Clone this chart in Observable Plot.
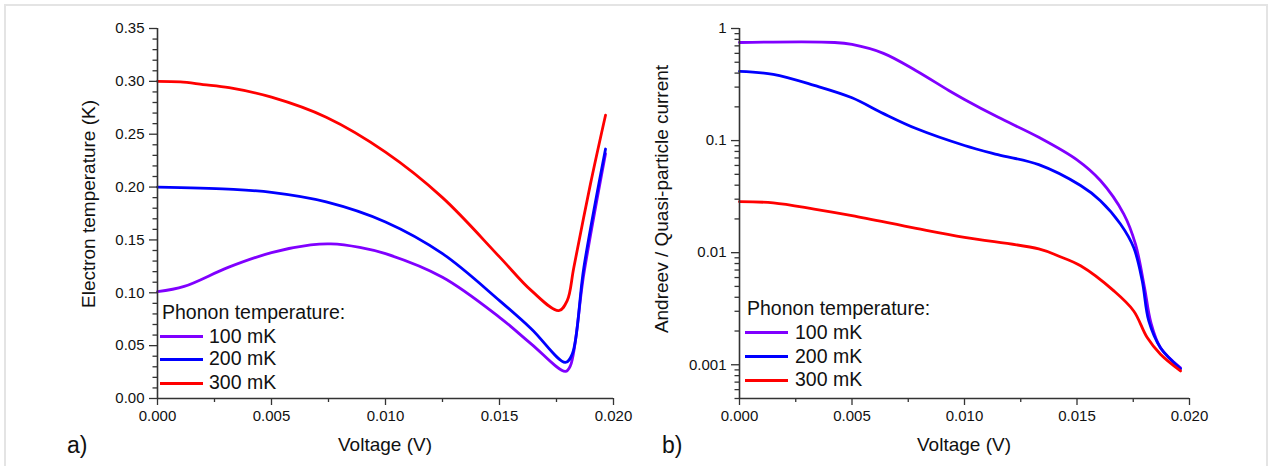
<!DOCTYPE html>
<html>
<head>
<meta charset="utf-8">
<script src="https://cdn.jsdelivr.net/npm/d3@7"></script>
<script src="https://cdn.jsdelivr.net/npm/@observablehq/plot@0.6"></script>
<style>
  html, body { margin: 0; padding: 0; background: #fff; }
  #wrap { position: relative; width: 1270px; height: 466px; overflow: hidden; font-family: "Liberation Sans", Arial, sans-serif; color: #111; }
  #border { position: absolute; left: 4px; top: 4px; width: 1260px; height: 480px; border: 2px solid #e4e4e4; }
  .panel { position: absolute; top: 0; }
  .t { position: absolute; white-space: nowrap; font-size: 19px; line-height: 1; }
  .legtitle { position: absolute; white-space: nowrap; font-size: 19.5px; line-height: 1; }
  .sw { position: absolute; height: 3px; width: 43px; }
  .lab { position: absolute; white-space: nowrap; font-size: 19.5px; line-height: 1; }
</style>
</head>
<body>
<div id="wrap"><div id="border"></div></div>
<script>
// ---------- data ----------
const seriesNames = ["100 mK", "200 mK", "300 mK"];
const seriesColors = ["#8000ff", "#0000ff", "#ff0000"];

// Panel a) Electron temperature (K) vs Voltage (V)
const vA100 = [0, 0.00117, 0.0031, 0.005, 0.00672, 0.0076, 0.00887, 0.010, 0.0125, 0.015, 0.0164, 0.01789, 0.01811, 0.0187, 0.01965];
const tA100 = [0.101, 0.106, 0.124, 0.138, 0.1453, 0.1463, 0.143, 0.137, 0.1147, 0.0768, 0.0515, 0.0256, 0.031, 0.118, 0.2316];
const vA200 = [0, 0.0031, 0.005, 0.0074, 0.010, 0.0125, 0.015, 0.0164, 0.01789, 0.01819, 0.0187, 0.01965];
const tA200 = [0.200, 0.198, 0.195, 0.186, 0.167, 0.137, 0.0926, 0.0658, 0.0341, 0.042, 0.124, 0.236];
const vA300 = [0, 0.001, 0.002, 0.00314, 0.005, 0.0074, 0.010, 0.0125, 0.015, 0.0164, 0.0176, 0.01797, 0.01826, 0.01899, 0.01965];
const tA300 = [0.300, 0.2995, 0.297, 0.294, 0.285, 0.266, 0.233, 0.190, 0.134, 0.102, 0.0831, 0.0926, 0.124, 0.203, 0.268];

// Panel b) Andreev / Quasi-particle current vs Voltage (V)
const vB100 = [0, 0.00423, 0.005, 0.0064, 0.00785, 0.0093, 0.010, 0.01148, 0.0133, 0.0150, 0.01604, 0.01708, 0.0176, 0.018, 0.01828, 0.01871, 0.0196];
const iB100 = [0.75, 0.75, 0.72, 0.60, 0.42, 0.28, 0.233, 0.162, 0.107, 0.0673, 0.044, 0.0221, 0.0119, 0.0049, 0.0024, 0.00142, 0.00094];
const vB200 = [0, 0.0015, 0.00332, 0.005, 0.0064, 0.00785, 0.010, 0.01148, 0.0133, 0.01516, 0.01604, 0.01693, 0.01752, 0.0179, 0.01819, 0.01871, 0.0196];
const iB200 = [0.415, 0.39, 0.311, 0.241, 0.174, 0.128, 0.0904, 0.075, 0.061, 0.0397, 0.0291, 0.018, 0.0111, 0.0056, 0.00246, 0.00142, 0.00092];
const vB300 = [0, 0.0015, 0.00332, 0.005, 0.00785, 0.010, 0.0133, 0.0142, 0.01516, 0.01664, 0.01752, 0.01812, 0.01871, 0.0196];
const iB300 = [0.0285, 0.0278, 0.0245, 0.0214, 0.0165, 0.0137, 0.0108, 0.0093, 0.00764, 0.00456, 0.00302, 0.00175, 0.00124, 0.00088];

// ticks
const xMajor = [0, 0.005, 0.010, 0.015, 0.020];
const xMinor = [0.0025, 0.0075, 0.0125, 0.0175];
const yAMajor = [0, 0.05, 0.10, 0.15, 0.20, 0.25, 0.30, 0.35];
const yAMinor = d3.range(1, 35).filter(i => i % 5 !== 0).map(i => i / 100);
const yBMajor = [0.001, 0.01, 0.1, 1];
const yBLabels = ["0.001", "0.01", "0.1", "1"];
const yBMinor = [0.0005, 0.0006, 0.0007, 0.0008, 0.0009]
  .concat([2,3,4,5,6,7,8,9].map(k => k * 0.001))
  .concat([2,3,4,5,6,7,8,9].map(k => k * 0.01))
  .concat([2,3,4,5,6,7,8,9].map(k => k * 0.1));

// ---------- build tables ----------
function table(vs, ys, name) { return vs.map((v, i) => ({v, y: ys[i], s: name})); }
const dataA = [table(vA100, tA100, "100 mK"), table(vA200, tA200, "200 mK"), table(vA300, tA300, "300 mK")];
const dataB = [table(vB100, iB100, "100 mK"), table(vB200, iB200, "200 mK"), table(vB300, iB300, "300 mK")];

const axisColor = "#333";
const font = "'Liberation Sans', Arial, sans-serif";

function panel(data, yOpts, yMajor, yMinor, yFmt, yBottom, margins) {
  return Plot.plot({
    width: 635, height: 466,
    marginTop: 28, marginBottom: 68,
    marginLeft: margins[0], marginRight: margins[1],
    style: {fontFamily: font, fontSize: "15px", color: "#111", background: "transparent"},
    x: {domain: [0, 0.02]},
    y: yOpts,
    marks: [
      ...data.map((d, i) => Plot.line(d, {x: "v", y: "y", stroke: seriesColors[i], strokeWidth: 2.8, curve: "catmull-rom"})),
      Plot.axisX({ticks: xMajor, tickFormat: d3.format(".3f"), tickSize: 7, tickPadding: 5, stroke: axisColor, strokeWidth: 1.3, label: null, fontSize: 15}),
      Plot.axisX({ticks: xMinor, tickFormat: () => "", tickSize: 4, stroke: axisColor, strokeWidth: 1.3, label: null}),
      Plot.axisY({ticks: yMajor, tickFormat: yFmt, tickSize: 8, tickPadding: 5, stroke: axisColor, strokeWidth: 1.3, label: null, fontSize: 15}),
      Plot.axisY({ticks: yMinor, tickFormat: () => "", tickSize: 4.5, stroke: axisColor, strokeWidth: 1.3, label: null}),
      Plot.ruleX([0], {stroke: axisColor, strokeWidth: 1.6}),
      Plot.ruleY([yBottom], {stroke: axisColor, strokeWidth: 1.6})
    ]
  });
}

const wrap = document.getElementById("wrap");

const pA = panel(dataA, {domain: [0, 0.35]}, yAMajor, yAMinor, d3.format(".2f"), 0, [157, 22]);
pA.classList.add("panel"); pA.style.left = "0px";
wrap.appendChild(pA);

const pB = panel(dataB, {type: "log", domain: [0.0005, 1]}, yBMajor, yBMinor, d => yBLabels[yBMajor.indexOf(d)], 0.0005, [104, 81]);
pB.classList.add("panel"); pB.style.left = "635px";
wrap.appendChild(pB);

// ---------- text: titles, labels, legends ----------
function addText(cls, txt, left, top, extra) {
  const el = document.createElement("div");
  el.className = cls; el.textContent = txt;
  el.style.left = left + "px"; el.style.top = top + "px";
  if (extra) Object.assign(el.style, extra);
  wrap.appendChild(el);
  return el;
}
// x axis titles (centered)
addText("t", "Voltage (V)", 385, 444, {transform: "translate(-50%,-50%)"});
addText("t", "Voltage (V)", 964, 444, {transform: "translate(-50%,-50%)"});
// y axis titles (rotated)
addText("t", "Electron temperature (K)", 88, 204, {transform: "translate(-50%,-50%) rotate(-90deg)"});
addText("t", "Andreev / Quasi-particle current", 661, 199, {transform: "translate(-50%,-50%) rotate(-90deg)"});
// panel letters
addText("t", "a)", 67, 434, {fontSize: "23px"});
addText("t", "b)", 662, 434, {fontSize: "23px"});

// legends
function legend(x0, yTitle, yRows, labelX) {
  addText("legtitle", "Phonon temperature:", x0, yTitle);
  seriesNames.forEach((name, i) => {
    const sw = document.createElement("div");
    sw.className = "sw";
    sw.style.left = x0 - 2 + "px";
    sw.style.top = Math.round(yRows[i] - 1.5) + "px";
    sw.style.background = seriesColors[i];
    wrap.appendChild(sw);
    addText("lab", name, labelX, yRows[i], {transform: "translateY(-50%)"});
  });
}
legend(162, 303, [336.7, 359.3, 383], 209);
legend(747, 299, [332.7, 356.7, 380.3], 795);
</script>
</body>
</html>
